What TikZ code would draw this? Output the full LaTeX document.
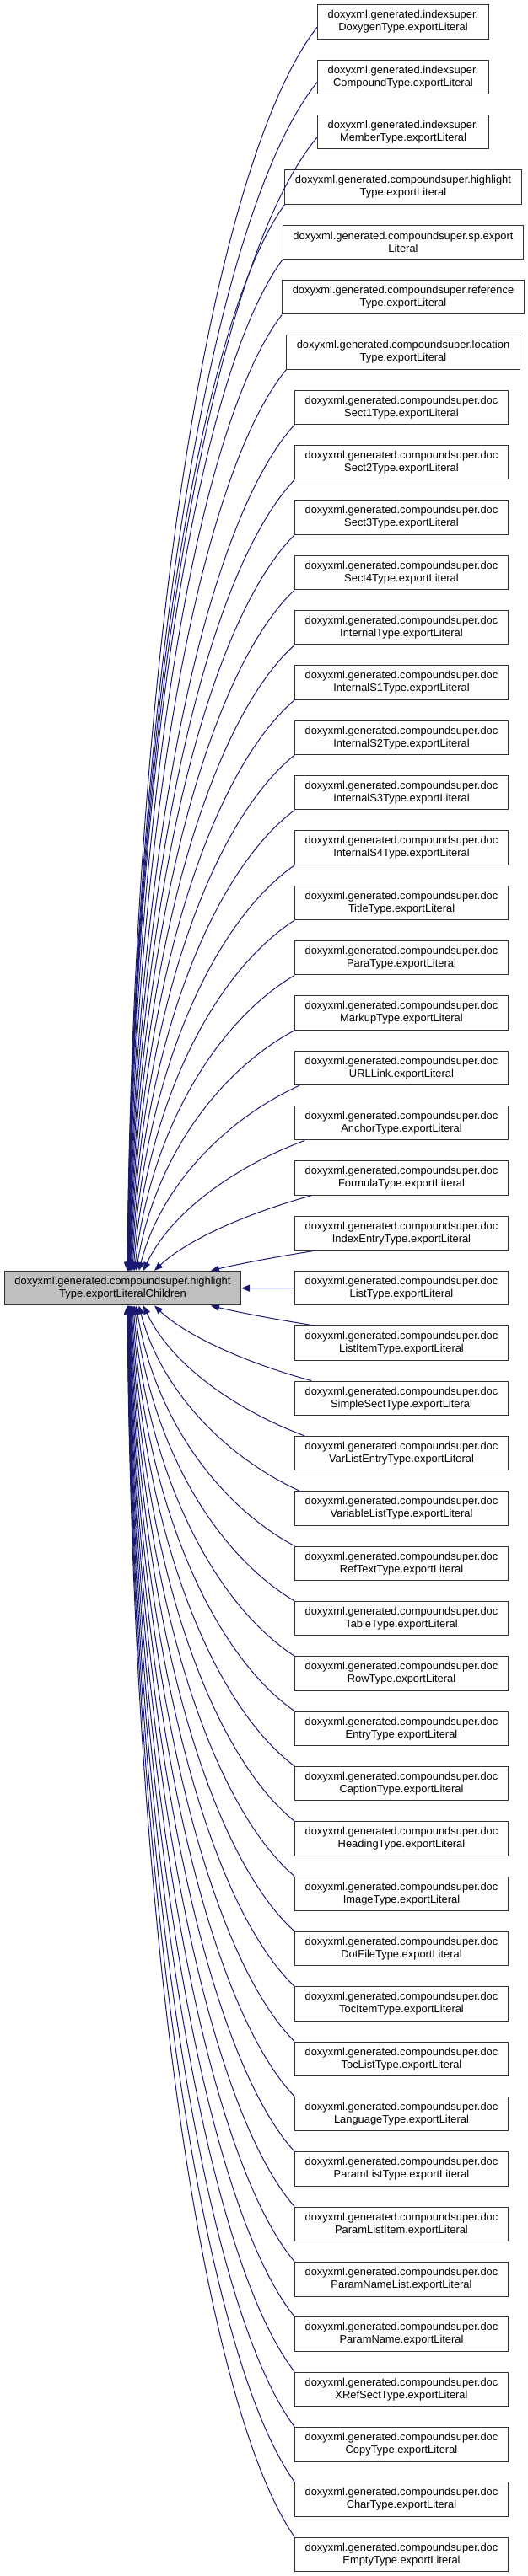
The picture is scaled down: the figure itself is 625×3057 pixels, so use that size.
\documentclass[tikz,border=0pt]{standalone}
\usepackage{fontspec}
\setmainfont{Liberation Sans}
\usetikzlibrary{arrows.meta,calc}
\definecolor{edgecol}{RGB}{25,25,112}
\definecolor{boxline}{RGB}{50,50,50}
\begin{document}
\begin{tikzpicture}[x=1pt,y=1pt,
  box/.style={draw=boxline, fill=white, line width=1pt, align=center,
    inner xsep=12pt, inner ysep=0pt, minimum height=40.6pt,
    font=\fontsize{12.9}{15}\selectfont},
  mainbox/.style={box, fill=gray!50},
  edge/.style={draw=edgecol, line width=1pt, -{Triangle[length=10pt,width=8pt]}}]
\useasboundingbox (0,0) rectangle (625,-3057);
\node[mainbox] (L) at (145.5,-1528.67) {doxyxml.generated.compoundsuper.highlight\\Type.exportLiteralChildren};
\node[box] (n1) at (478,-26) {doxyxml.generated.indexsuper.\\DoxygenType.exportLiteral};
\node[box] (n2) at (478,{-(26+1*65.3333)}) {doxyxml.generated.indexsuper.\\CompoundType.exportLiteral};
\node[box] (n3) at (478,{-(26+2*65.3333)}) {doxyxml.generated.indexsuper.\\MemberType.exportLiteral};
\node[box] (n4) at (478,{-(26+3*65.3333)}) {doxyxml.generated.compoundsuper.highlight\\Type.exportLiteral};
\node[box] (n5) at (478,{-(26+4*65.3333)}) {doxyxml.generated.compoundsuper.sp.export\\Literal};
\node[box] (n6) at (478,{-(26+5*65.3333)}) {doxyxml.generated.compoundsuper.reference\\Type.exportLiteral};
\node[box] (n7) at (478,{-(26+6*65.3333)}) {doxyxml.generated.compoundsuper.location\\Type.exportLiteral};
\foreach \t [count=\j from 8] in {Sect1Type,Sect2Type,Sect3Type,Sect4Type,InternalType,InternalS1Type,InternalS2Type,InternalS3Type,InternalS4Type,TitleType,ParaType,MarkupType,URLLink,AnchorType,FormulaType,IndexEntryType,ListType,ListItemType,SimpleSectType,VarListEntryType,VariableListType,RefTextType,TableType,RowType,EntryType,CaptionType,HeadingType,ImageType,DotFileType,TocItemType,TocListType,LanguageType,ParamListType,ParamListItem,ParamNameList,ParamName,XRefSectType,CopyType,CharType,EmptyType} {
  \node[box] (n\j) at (476,{-(26+(\j-1)*65.3333)}) {doxyxml.generated.compoundsuper.doc\\\t.exportLiteral};
}
\draw[edge] (n24.west) -- (L.east);
\foreach \i in {1,...,23,25,26,...,47} {
  \pgfmathtruncatemacro{\k}{abs(\i-24)}
  \pgfmathsetmacro{\off}{\k==1 ? 25 : (\k==2 ? 20 : (\k==3 ? 12 : (\k==4 ? 6 : 0)))}
  \pgfmathsetmacro{\xt}{\k==1 ? 250 : 145+38/(max(\k-1,1)^0.6)}
  \coordinate (tx) at (\xt,0);
  \ifnum\i<24
    \ifnum\i<4
      \coordinate (s) at ($(n\i.west)+(0,-6)$);
    \else
      \coordinate (s) at ($(n\i.south west)+(\off,0)$);
    \fi
    \coordinate (t) at (L.north -| tx);
    \def\sg{-1}
  \else
    \coordinate (s) at ($(n\i.north west)+(\off,0)$);
    \coordinate (t) at (L.south -| tx);
    \def\sg{1}
  \fi
  \draw[edge] let \p1=(s), \p2=(t), \n1={abs((\y2)-(\y1))}, \n2={(\x1)-(\x2)}, \n3={\n1/(\n1+150)} in
    (s) .. controls ({\x1-\n3*0.55*\n2-(1-\n3)*\n2/3}, {\y1+\sg*(\n3*0.08*\n1+(1-\n3)*\n1/3)})
    and ({\x2+(1-\n3)*\n2/3}, {\y2-\sg*(\n3*0.54*\n1+(1-\n3)*\n1/3)}) .. (t);
}
\end{tikzpicture}
\end{document}
